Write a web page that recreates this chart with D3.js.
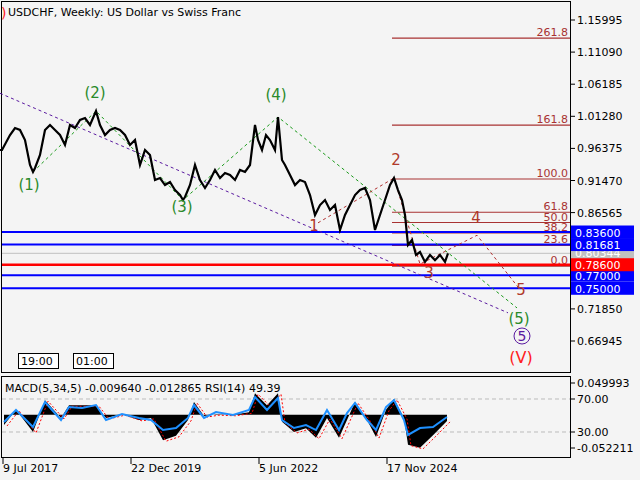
<!DOCTYPE html>
<html><head><meta charset="utf-8">
<script src="https://cdn.jsdelivr.net/npm/d3@7"></script>
<style>body{margin:0;background:#fff}text{font-family:"DejaVu Sans",sans-serif;font-size:11px}</style>
</head><body><svg id="c" width="640" height="480"></svg>
<script>
// weekly closes, x = weeks since 18 Jun 2017
var priceWeeks = [0,2,10,15,20,25,30,33,35,40,45,50,55,60,65,70,75,80,85,90,96,100,105,110,115,120,125,130,135,140,145,150,155,160,165,170,175,180,183,185,190,195,200,205,210,215,220,225,230,235,240,245,250,255,258,262,266,270,275,278,282,285,290,295,300,305,310,315,320,325,330,335,340,345,350,355,360,365,370,375,380,385,390,394,398,402,405,408,412,416,420,425,430,435,440,445,448];
var prices = [0.9613,0.9613,0.9842,0.9949,0.9919,0.9766,0.9384,0.9277,0.9338,0.9537,0.9919,0.9995,0.9919,0.9842,0.9690,0.9995,0.9949,1.0072,1.0102,0.9995,1.0209,0.9995,0.9842,0.9919,0.9949,0.9919,0.9842,0.9690,0.9766,0.9384,0.9613,0.9537,0.9155,0.9185,0.9078,0.9124,0.9001,0.8925,0.8849,0.8895,0.9078,0.9384,0.9155,0.9032,0.9155,0.9308,0.9185,0.9262,0.9232,0.9155,0.9308,0.9277,0.9384,0.9995,0.9766,0.9613,0.9842,0.9766,0.9613,1.0117,0.9460,0.9384,0.9232,0.9078,0.9155,0.9124,0.8925,0.8620,0.8772,0.8849,0.8696,0.8772,0.8391,0.8620,0.8772,0.8925,0.9001,0.9032,0.8849,0.8391,0.8620,0.8849,0.9078,0.9185,0.9001,0.8849,0.8620,0.8162,0.8238,0.8009,0.8054,0.7902,0.8009,0.7930,0.8009,0.7902,0.8034];
var levelLines = [0.83600,0.81681,0.77000,0.75000];
var redLevel = 0.78600, lastPrice = 0.80344;
var fibLevels = [261.8,161.8,100.0,61.8,50.0,38.2,23.6,0.0];
var fibHigh = 0.9170, fibLow = 0.7840;
var priceTicks = [1.15995,1.11090,1.06185,1.01280,0.96375,0.91470,0.86565,0.71850,0.66945];
var bigWave = [[33,0.9277],[96,1.0209],[183,0.8849],[278,1.0117],[517,0.7200]];
var bigLabels = ["(1)","(2)","(3)","(4)"];
var bigLabelPos = [[29,0.900],[95,1.041],[182,0.867],[276,1.037]];
var subWave = [[318,0.8500],[394,0.9185],[420,0.7870],[477,0.8310],[519,0.7500]];
var subLabels = ["1","2","3","4","5"];
var subLabelPos = [[314,0.8370],[396,0.9380],[429,0.7650],[476,0.8500],[521,0.7390]];
var channel = [[0,1.0480],[508,0.7125]];
var rsiWeeks = [4,16,33,45,61,69,82,96,106,122,139,151,163,176,188,194,204,216,233,249,255,267,278,282,294,306,316,327,339,347,355,367,376,386,394,404,408,420,433,447];
var rsi = [42.1,56.7,36.1,66.4,44.5,60.3,59.1,62.7,44.5,51.8,47.0,44.5,32.4,34.8,47.0,62.7,47.0,54.2,50.6,56.7,72.4,56.7,71.2,44.5,34.8,38.5,32.4,56.7,32.4,53.0,65.2,44.5,32.4,60.3,68.8,44.5,26.4,34.8,36.1,48.2];
var macd = [-0.016,0.008,-0.027,0.023,-0.005,0.015,0.015,0.015,-0.005,0.001,-0.008,-0.005,-0.040,-0.033,-0.008,0.020,-0.002,0.001,0,0.004,0.034,0.015,0.034,-0.011,-0.027,-0.021,-0.036,-0.005,-0.036,-0.008,0.020,-0.008,-0.035,0.008,0.025,-0.005,-0.047,-0.052,-0.032,-0.0096];
var dateLabels = ["2017-07-09","2019-12-22","2022-06-05","2024-11-17"];

var svg = d3.select("#c");
var start = new Date(2017,5,18);
var wk = function(w){ return d3.timeDay.offset(start, Math.round(w*7)); };
var x = d3.scaleTime().domain([start, wk(570)]).range([0,570]);
var y = d3.scaleLinear().domain([0.66945,1.15995]).range([341,20]);
var fmt = d3.timeFormat("%-d %b %Y");

svg.append("rect").attr("width",640).attr("height",480).attr("fill","#f4f4f4");
svg.append("rect").attr("x",1.5).attr("y",1.5).attr("width",569).attr("height",371).attr("fill","none").attr("stroke","#000");
svg.append("rect").attr("x",1.5).attr("y",376.5).attr("width",569).attr("height",81).attr("fill","none").attr("stroke","#000");

// fib levels
var fibVal = function(l){ return fibLow + (fibHigh-fibLow)*l/100; };
fibLevels.forEach(function(l){
  var yy = y(fibVal(l));
  svg.append("line").attr("x1",392).attr("x2",570).attr("y1",yy).attr("y2",yy).attr("stroke","#a83232").attr("stroke-width",1.2);
  svg.append("text").attr("x",568).attr("y",yy-2).attr("text-anchor","end").attr("fill","#a83232").text(l.toFixed(1));
});

// horizontal levels
svg.append("line").attr("x1",2).attr("x2",570).attr("y1",y(lastPrice)).attr("y2",y(lastPrice)).attr("stroke","#c0c0c0");
levelLines.forEach(function(v){
  svg.append("line").attr("x1",2).attr("x2",570).attr("y1",y(v)).attr("y2",y(v)).attr("stroke","#0000ff").attr("stroke-width",2);
});
svg.append("line").attr("x1",2).attr("x2",570).attr("y1",y(redLevel)).attr("y2",y(redLevel)).attr("stroke","#ff0000").attr("stroke-width",2.5);

// dotted wave lines
var pl = d3.line().x(function(d){return x(wk(d[0]));}).y(function(d){return y(d[1]);});
svg.append("path").attr("d",pl(channel)).attr("fill","none").attr("stroke","#5a1aa0").attr("stroke-dasharray","3,3");
svg.append("path").attr("d",pl(bigWave)).attr("fill","none").attr("stroke","#1a9a1a").attr("stroke-dasharray","3,3");
svg.append("path").attr("d",pl(subWave)).attr("fill","none").attr("stroke","#b03030").attr("stroke-dasharray","3,3");

// price
var line = d3.line().x(function(d,i){return x(wk(priceWeeks[i]));}).y(function(d){return y(d);});
svg.append("path").attr("d",line(prices)).attr("fill","none").attr("stroke","#000").attr("stroke-width",2.2);

// wave labels
bigLabelPos.forEach(function(p,i){
  svg.append("text").attr("x",x(wk(p[0]))).attr("y",y(p[1])).attr("text-anchor","middle").attr("fill","#2a8a2a").style("font-size","15px").text(bigLabels[i]);
});
subLabelPos.forEach(function(p,i){
  svg.append("text").attr("x",x(wk(p[0]))).attr("y",y(p[1])).attr("text-anchor","middle").attr("fill","#b03a2a").style("font-size","15px").text(subLabels[i]);
});
svg.append("text").attr("x",519).attr("y",324).attr("text-anchor","middle").attr("fill","#2a8a2a").style("font-size","15px").text("(5)");
svg.append("circle").attr("cx",522).attr("cy",336).attr("r",8).attr("fill","none").attr("stroke","#5a1aa0");
svg.append("text").attr("x",522).attr("y",341).attr("text-anchor","middle").attr("fill","#5a1aa0").style("font-size","14px").text("5");
svg.append("text").attr("x",521).attr("y",363).attr("text-anchor","middle").attr("fill","#ff2020").style("font-size","16px").text("(V)");
svg.append("text").attr("x",1).attr("y",18).attr("fill","#ff2020").style("font-size","14px").text(")");
svg.append("text").attr("x",8).attr("y",16).attr("fill","#000").text("USDCHF, Weekly:  US Dollar vs Swiss Franc");

// time boxes
[["19:00",18],["01:00",73]].forEach(function(b){
  svg.append("rect").attr("x",b[1]+.5).attr("y",353.5).attr("width",40).attr("height",15).attr("fill","#fff").attr("stroke","#000");
  svg.append("text").attr("x",b[1]+3).attr("y",365).text(b[0]);
});

// price axis
svg.selectAll(".pt").data(priceTicks).enter().append("g").each(function(d){
  var g = d3.select(this);
  g.append("line").attr("x1",571).attr("x2",575).attr("y1",y(d)).attr("y2",y(d)).attr("stroke","#000");
  g.append("text").attr("x",577).attr("y",y(d)+4).text(d.toFixed(5));
});
var boxes = levelLines.map(function(v){return [v,"#0000ff"];}).concat([[redLevel,"#ff0000"]]);
svg.append("rect").attr("x",571).attr("y",y(lastPrice)-6).attr("width",63).attr("height",12).attr("fill","#c0c0c0");
svg.append("text").attr("x",575).attr("y",y(lastPrice)+4).attr("fill","#fff").text(lastPrice.toFixed(5));
boxes.forEach(function(b){
  svg.append("rect").attr("x",571).attr("y",y(b[0])-6.5).attr("width",63).attr("height",13).attr("fill",b[1]);
  svg.append("text").attr("x",575).attr("y",y(b[0])+4.5).attr("fill","#fff").text(b[0].toFixed(5));
});

// indicator pane
var ym = d3.scaleLinear().domain([-0.052211,0.049993]).range([448,383]);
var yr = d3.scaleLinear().domain([30,70]).range([432,399]);
[70,30].forEach(function(v){
  svg.append("line").attr("x1",2).attr("x2",570).attr("y1",yr(v)).attr("y2",yr(v)).attr("stroke","#bbb").attr("stroke-dasharray","4,3");
});
var rx = function(i){ return x(wk(rsiWeeks[i])); };
svg.append("path").attr("d",d3.area().x(function(d,i){return rx(i);}).y0(ym(0)).y1(function(d){return ym(d);})(macd)).attr("fill","#000");
svg.append("path").attr("d",d3.line().x(function(d,i){return rx(i)+3;}).y(function(d){return ym(d)+1;})(macd)).attr("fill","none").attr("stroke","#ff0000").attr("stroke-dasharray","2,2");
svg.append("path").attr("d",d3.line().x(function(d,i){return rx(i);}).y(function(d){return yr(d);})(rsi)).attr("fill","none").attr("stroke","#1e90ff").attr("stroke-width",2);
svg.append("text").attr("x",5).attr("y",392).text("MACD(5,34,5) -0.009640 -0.012865 RSI(14) 49.39");
[[0.049993,"0.049993",383],[null,"70.00",yr(70)],[null,"30.00",yr(30)],[-0.052211,"-0.052211",448]].forEach(function(t){
  svg.append("line").attr("x1",571).attr("x2",575).attr("y1",t[2]).attr("y2",t[2]).attr("stroke","#000");
  svg.append("text").attr("x",577).attr("y",t[2]+4).text(t[1]);
});

// date axis
dateLabels.forEach(function(s){
  var d = d3.timeParse("%Y-%m-%d")(s), xx = x(d);
  svg.append("line").attr("x1",xx).attr("x2",xx).attr("y1",458).attr("y2",464).attr("stroke","#000");
  svg.append("text").attr("x",xx).attr("y",472).text(fmt(d));
});
</script></body></html>
